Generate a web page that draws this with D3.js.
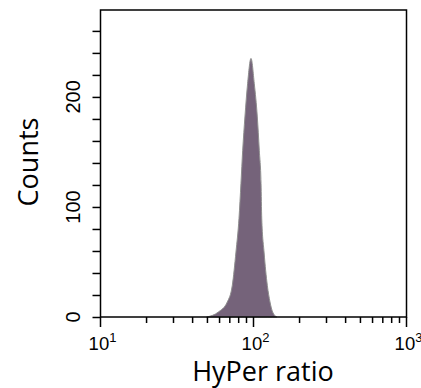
<!DOCTYPE html>
<html>
<head>
<meta charset="utf-8">
<script src="https://cdn.jsdelivr.net/npm/d3@7"></script>
<style>
  body { margin: 0; background: #fff; }
  svg { display: block; }
</style>
</head>
<body>
<svg id="chart" width="421" height="388"></svg>
<script>
// histogram outline: HyPer ratio vs counts
let ratioValues = [49.4, 58.9, 67.4, 72.7, 76.8, 80.4, 82.8, 85.0, 87.9, 91.5, 96.3,
                   101.2, 105.9, 109.1, 112.0, 113.2, 117.2, 123.1, 128.2, 133.4, 141.8]
let countValues = [0, 4.5, 13.6, 28.8, 59, 89.7, 121.5, 151.5, 181.8, 212, 235,
                   212, 181.8, 151.5, 121.5, 89.7, 59, 28.8, 13.6, 4.5, 0]

let yTickValues = [0, 100, 200]
let xTickExponents = [1, 2, 3]

let svg = d3.select("#chart")

let plotVars = ({
    left: 100.5,
    right: 406.5,
    top: 10,
    bottom: 317
})

// scales
let xScale = d3.scaleLog()
    .domain([10, 1000])
    .range([plotVars.left, plotVars.right])

let yScale = d3.scaleLinear()
    .domain([0, 279])
    .range([plotVars.bottom, plotVars.top])

// histogram area
let data = ratioValues.map(function (d, i) {
    return { ratio: d, count: countValues[i] }
})

let area = d3.area()
    .x(function (d) { return xScale(d.ratio) })
    .y0(yScale(0))
    .y1(function (d) { return yScale(d.count) })
    .curve(d3.curveMonotoneX)

svg.append("path")
    .datum(data)
    .attr("d", area)
    .style("fill", "#75637a")
    .style("stroke", "#8f8f8f")
    .style("stroke-width", 1)

// frame
svg.append("rect")
    .attr("x", plotVars.left)
    .attr("y", plotVars.top)
    .attr("width", plotVars.right - plotVars.left)
    .attr("height", plotVars.bottom - plotVars.top)
    .style("fill", "none")
    .style("stroke", "#000")
    .style("stroke-width", 1.5)

// y axis: minor ticks every 20, labels at 0/100/200
let yAxis = d3.axisLeft(yScale)
    .tickValues(d3.range(0, 279, 20))
    .tickSize(8)
    .tickFormat("")

let yAxisGroup = svg.append("g")
    .attr("transform", `translate(${plotVars.left},0)`)
    .call(yAxis)
yAxisGroup.select(".domain").remove()
yAxisGroup.selectAll("line").attr("stroke", "#000").attr("stroke-width", 1.5)

svg.selectAll("text.ylab")
    .data(yTickValues)
    .enter()
    .append("text")
    .attr("class", "ylab")
    .attr("transform", function (d) { return `translate(80,${yScale(d)}) rotate(-90)` })
    .style("text-anchor", "middle")
    .style("font-family", "Liberation Sans, Arial, sans-serif")
    .style("font-size", "20px")
    .text(function (d) { return d })

// x axis: log ticks, majors longer
let allXTicks = xScale.ticks()
let xAxisGroup = svg.append("g")
    .attr("transform", `translate(0,${plotVars.bottom})`)

xAxisGroup.selectAll("line")
    .data(allXTicks)
    .enter()
    .append("line")
    .attr("x1", function (d) { return xScale(d) })
    .attr("x2", function (d) { return xScale(d) })
    .attr("y1", 0)
    .attr("y2", function (d) {
        let e = Math.log10(d)
        return Math.abs(e - Math.round(e)) < 1e-9 ? 10 : 6
    })
    .attr("stroke", "#000")
    .attr("stroke-width", 1.5)

let xLabels = svg.selectAll("text.xlab")
    .data(xTickExponents)
    .enter()
    .append("text")
    .attr("class", "xlab")
    .attr("x", function (d) { return xScale(Math.pow(10, d)) + 2 })
    .attr("y", 350)
    .style("text-anchor", "middle")
    .style("font-family", "Liberation Sans, Arial, sans-serif")
    .style("font-size", "18.5px")

xLabels.append("tspan").text("10")
xLabels.append("tspan")
    .attr("dy", -8)
    .style("font-size", "13px")
    .text(function (d) { return d })

// axis titles
svg.append("text")
    .attr("x", 263)
    .attr("y", 381)
    .style("text-anchor", "middle")
    .style("font-family", "Open Sans, sans-serif")
    .style("font-size", "27px")
    .text("HyPer ratio")

svg.append("text")
    .attr("transform", "translate(38,162) rotate(-90)")
    .style("text-anchor", "middle")
    .style("font-family", "Open Sans, sans-serif")
    .style("font-size", "27px")
    .text("Counts")
</script>
</body>
</html>
